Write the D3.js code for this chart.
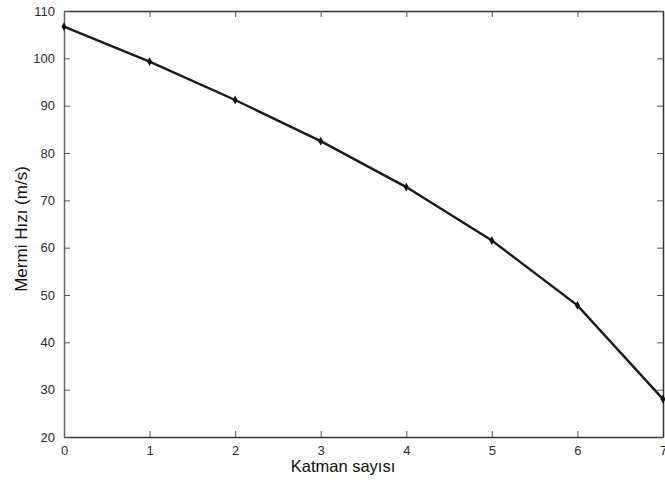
<!DOCTYPE html>
<html>
<head>
<meta charset="utf-8">
<script src="https://cdn.jsdelivr.net/npm/d3@7"></script>
<style>
  body { margin: 0; background: #fff; }
  svg { display: block; font-family: "Liberation Sans", Arial, sans-serif; }
  .tick text { fill: #2a2a2a; font-size: 13px; }
</style>
</head>
<body>
<svg id="chart" width="665" height="485"></svg>
<script>
const layers = [0, 1, 2, 3, 4, 5, 6, 7];
const speeds = [106.7, 99.3, 91.2, 82.5, 72.8, 61.5, 47.8, 28.0];
const xTicks = [0, 1, 2, 3, 4, 5, 6, 7];
const yTicks = [20, 30, 40, 50, 60, 70, 80, 90, 100, 110];

const svg = d3.select('#chart');
const mLeft = 64, mRight = 663, mTop = 11, mBottom = 437;

const x = d3.scaleLinear().domain([0, 7]).range([mLeft, mRight]);
const y = d3.scaleLinear().domain([20, 110]).range([mBottom, mTop]);

// mirrored inward ticks on all four sides
const gx = svg.append('g').attr('transform', `translate(0,${mBottom})`)
  .call(d3.axisBottom(x).tickValues(xTicks).tickFormat(d3.format('d'))
    .tickSize(-6).tickPadding(9).tickSizeOuter(0));
const gxTop = svg.append('g').attr('transform', `translate(0,${mTop})`)
  .call(d3.axisTop(x).tickValues(xTicks).tickSize(-6).tickFormat('').tickSizeOuter(0));
const gy = svg.append('g').attr('transform', `translate(${mLeft},0)`)
  .call(d3.axisLeft(y).tickValues(yTicks).tickFormat(d3.format('d'))
    .tickSize(-6).tickPadding(9).tickSizeOuter(0));
const gyRight = svg.append('g').attr('transform', `translate(${mRight},0)`)
  .call(d3.axisRight(y).tickValues(yTicks).tickSize(-6).tickFormat('').tickSizeOuter(0));

[gx, gxTop, gy, gyRight].forEach(g => {
  g.select('.domain').attr('stroke', '#333').attr('stroke-width', 1.5);
  g.selectAll('.tick line').attr('stroke', '#555').attr('stroke-width', 1);
});
gy.select('.domain').attr('stroke', '#666');

const line = d3.line().x((d, i) => x(layers[i])).y(d => y(d));
svg.append('path')
  .datum(speeds)
  .attr('d', line)
  .attr('fill', 'none')
  .attr('stroke', '#1a1a1a')
  .attr('stroke-width', 2.4);

svg.append('g').selectAll('path')
  .data(speeds)
  .join('path')
  .attr('transform', (d, i) => `translate(${x(layers[i])},${y(d)})`)
  .attr('d', d3.symbol().type(d3.symbolDiamond).size(22))
  .attr('fill', '#111');

svg.append('text')
  .attr('x', 343).attr('y', 472)
  .attr('text-anchor', 'middle')
  .attr('font-size', 16.5)
  .attr('fill', '#111')
  .text('Katman sayısı');

svg.append('text')
  .attr('transform', `translate(27,229) rotate(-90)`)
  .attr('text-anchor', 'middle')
  .attr('font-size', 17)
  .attr('fill', '#111')
  .text('Mermi Hızı (m/s)');
</script>
</body>
</html>
